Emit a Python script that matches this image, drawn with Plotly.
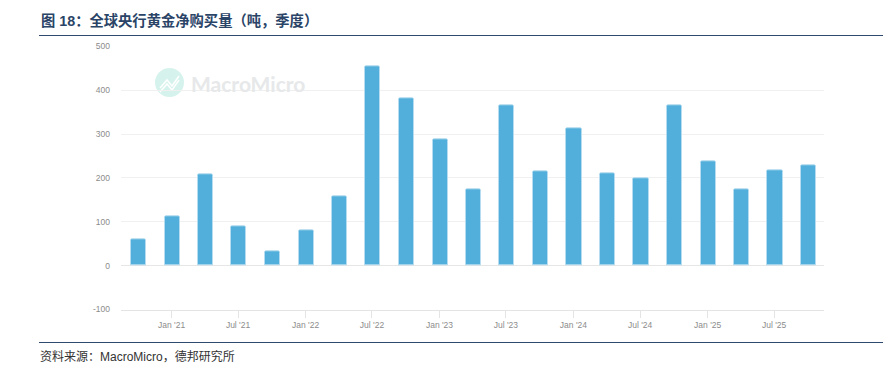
import plotly.graph_objects as go

W, H = 883, 375
quarters = ["2020-10-01","2021-01-01","2021-04-01","2021-07-01","2021-10-01","2022-01-01","2022-04-01",
            "2022-07-01","2022-10-01","2023-01-01","2023-04-01","2023-07-01","2023-10-01","2024-01-01",
            "2024-04-01","2024-07-01","2024-10-01","2025-01-01","2025-04-01","2025-07-01","2025-10-01"]
purchases = [60,113,208,90,33,81,158,455,382,289,175,366,215,312,210,200,365,238,175,217,229]
x_tick_dates = ["2021-01-01","2021-07-01","2022-01-01","2022-07-01","2023-01-01","2023-07-01","2024-01-01",
                "2024-07-01","2025-01-01","2025-07-01"]
x_tick_labels = ["Jan '21","Jul '21","Jan '22","Jul '22","Jan '23","Jul '23","Jan '24","Jul '24","Jan '25","Jul '25"]
y_ticks = [-100,0,100,200,300,400,500]
y_labels = ["-100","0","100","200","300","400","500"]
title = "<b>图 18：全球央行黄金净购买量（吨，季度）</b>"
source = "资料来源：MacroMicro，德邦研究所"

def px(v): return v / W
def py(v): return 1 - v / H

DAY = 86400000
fig = go.Figure(go.Bar(
    x=quarters, y=purchases, width=42 * DAY, offset=-19 * DAY,
    marker=dict(color="#52aedb", line=dict(color="#b5dcf0", width=1), cornerradius=2),
    showlegend=False,
))
fig.update_layout(
    width=W, height=H, margin=dict(l=0, r=0, t=0, b=0, autoexpand=False),
    paper_bgcolor="white", plot_bgcolor="white",
    font=dict(family="Liberation Sans, Arial, sans-serif"),
    bargap=0,
    xaxis=dict(type="date", domain=[px(121), px(824)], range=["2020-08-16", "2025-11-14"],
               tickvals=x_tick_dates, ticktext=x_tick_labels, ticks="outside", ticklen=7,
               tickcolor="#e4e4e4", tickwidth=1, showgrid=False, zeroline=False, automargin=False,
               showline=True, linecolor="#e4e4e4", linewidth=1,
               tickfont=dict(size=8.5, color="#8c8c8c"), anchor="y"),
    yaxis=dict(domain=[py(309.5), py(46.3)], range=[-100, 500], automargin=False,
               tickvals=y_ticks, ticktext=y_labels, ticks="", showgrid=True,
               gridcolor="#f0f0f0", gridwidth=1, zeroline=True, zerolinecolor="#e6e6e6", zerolinewidth=1,
               tickfont=dict(size=8.5, color="#8c8c8c"), ticklabelstandoff=10),
)
navy = "#2f4a6f"
for ypos in (35.5, 342.5):
    fig.add_shape(type="line", xref="paper", yref="paper", x0=px(39), x1=px(883),
                  y0=py(ypos), y1=py(ypos), line=dict(color=navy, width=1))
# watermark logo
fig.add_shape(type="circle", xref="paper", yref="paper", layer="below",
              x0=px(155), x1=px(184), y0=py(97), y1=py(68),
              fillcolor="#d5f3ec", line=dict(width=0))
for dy in (0, 4):
    fig.add_shape(type="path", xref="paper", yref="paper", layer="below",
                  path=f"M {px(160)} {py(88+dy)} L {px(167)} {py(80+dy)} L {px(172)} {py(86+dy)} L {px(179)} {py(76+dy)}",
                  line=dict(color="white", width=1.5))
fig.add_annotation(xref="paper", yref="paper", x=px(189), y=py(83), xanchor="left", yanchor="middle",
                   text="<b>MacroMicro</b>", showarrow=False,
                   font=dict(size=21, color="#e6e8e9", family="Lato, Liberation Sans, sans-serif"))
fig.add_annotation(xref="paper", yref="paper", x=px(39), y=py(20.5), xanchor="left", yanchor="middle",
                   text=title, showarrow=False,
                   font=dict(size=14.3, color="#2a4467", family="Liberation Sans, Noto Sans CJK SC, sans-serif"))
fig.add_annotation(xref="paper", yref="paper", x=px(38), y=py(356.5), xanchor="left", yanchor="middle",
                   text=source, showarrow=False,
                   font=dict(size=12, color="#333333", family="Liberation Sans, Noto Sans CJK SC, sans-serif"))
fig.write_html("out.html", config=dict(displayModeBar=False), post_script="document.body.style.margin='0';")
